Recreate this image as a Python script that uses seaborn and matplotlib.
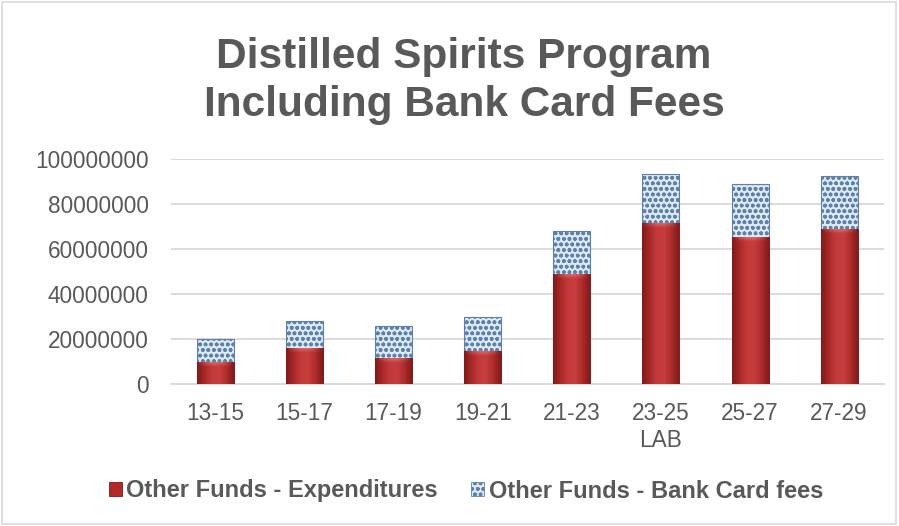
import matplotlib
matplotlib.use("Agg")
import matplotlib.pyplot as plt
from matplotlib.patches import Patch
from matplotlib.colors import LinearSegmentedColormap
import seaborn as sns
import pandas as pd
import numpy as np

periods = ["13-15", "15-17", "17-19", "19-21", "21-23", "23-25\nLAB", "25-27", "27-29"]
expenditures = [10000000, 16000000, 11800000, 14700000, 49100000, 71600000, 65500000, 69000000]
bank_card_fees = [10000000, 12000000, 14100000, 15200000, 18800000, 21900000, 23200000, 23600000]
y_ticks = [0, 20000000, 40000000, 60000000, 80000000, 100000000]

df = pd.DataFrame({"period": periods, "exp": expenditures, "fees": bank_card_fees})
df["total"] = df["exp"] + df["fees"]

sns.set_theme(style="white")
plt.rcParams["font.family"] = ["Liberation Sans", "DejaVu Sans"]
plt.rcParams["hatch.linewidth"] = 1.1

fig = plt.figure(figsize=(8.99, 5.26), dpi=100)
ax = fig.add_axes([0.190, 0.2694, 0.793, 0.4283])

red = "#b8302e"
red_edge = "#7e1a1a"
blue_face = "#dce9f6"
blue_hatch = "#5f80a8"
text_grey = "#595959"
bar_w = 0.415

# fees sit on top of expenditures: draw totals first, then expenditures from zero
sns.barplot(data=df, x="period", y="total", color=blue_face, width=bar_w,
            saturation=1, ax=ax, zorder=2)
fee_patches = list(ax.patches)
for p in fee_patches:
    p.set_hatch("ooo")
    p.set_edgecolor(blue_hatch)
    p.set_linewidth(0.8)

sns.barplot(data=df, x="period", y="exp", color=red, width=bar_w,
            saturation=1, ax=ax, zorder=3)
exp_patches = ax.patches[len(fee_patches):]

# rounded, shaded look on the red segments: darker at the sides, lighter in the middle
shade = LinearSegmentedColormap.from_list(
    "shade", ["#7f1b1b", "#a82828", "#c43a3a", "#c63d3d", "#b02c2c", "#7f1b1b"])
gx = np.linspace(0, 1, 64)
for p in exp_patches:
    p.set_edgecolor(red_edge)
    p.set_linewidth(0.6)
    x0, y0 = p.get_x(), p.get_y()
    w, h = p.get_width(), p.get_height()
    img = np.tile(gx, (32, 1))
    im = ax.imshow(img, cmap=shade, aspect="auto", origin="lower",
                   extent=(x0, x0 + w, y0, y0 + h), zorder=3.5, interpolation="bicubic")
    im.set_clip_path(p)
    # soft highlight near the top of each segment
    cap_h = 2200000
    cap = np.tile(np.sin(np.linspace(0, np.pi, 64)), (8, 1)) * np.linspace(0.0, 1.0, 8)[:, None]
    rgba = np.zeros((8, 64, 4))
    rgba[..., :3] = [0.93, 0.55, 0.55]
    rgba[..., 3] = cap * 0.55
    hi = ax.imshow(rgba, aspect="auto", origin="lower",
                   extent=(x0, x0 + w, y0 + h - cap_h, y0 + h), zorder=3.6,
                   interpolation="bicubic")
    hi.set_clip_path(p)

ax.set_xlim(-0.5, len(periods) - 0.5)
ax.set_ylim(0, y_ticks[-1])
ax.set_yticks(y_ticks)
ax.set_yticklabels([str(v) for v in y_ticks])
ax.yaxis.grid(True, color="#d9d9d9", linewidth=1.3)
ax.set_axisbelow(True)
for s in ["top", "right", "left"]:
    ax.spines[s].set_visible(False)
ax.spines["bottom"].set_color("#d9d9d9")
ax.spines["bottom"].set_linewidth(1.3)
ax.tick_params(axis="both", labelsize=16.3, colors=text_grey, length=0)
ax.tick_params(axis="y", pad=16)
ax.tick_params(axis="x", pad=13)
ax.set_xlabel("")
ax.set_ylabel("")

fig.text(464 / 899, 1 - 68 / 526, "Distilled Spirits Program", ha="center", va="baseline",
         fontsize=30.5, fontweight="bold", color=text_grey)
fig.text(464 / 899, 1 - 116 / 526, "Including Bank Card Fees", ha="center", va="baseline",
         fontsize=30.5, fontweight="bold", color=text_grey)

handles = [
    Patch(facecolor="#b02a2a", edgecolor=red_edge, linewidth=0.6,
          label="Other Funds - Expenditures"),
    Patch(facecolor=blue_face, edgecolor=blue_hatch, hatch="ooo", linewidth=0.6,
          label="Other Funds - Bank Card fees"),
]
fig.legend(handles=handles, loc="center", bbox_to_anchor=(466 / 899, 1 - 491 / 526), ncol=2,
           frameon=False, prop={"weight": "bold", "size": 17},
           handlelength=0.55, handleheight=0.55, handletextpad=0.2, columnspacing=1.4,
           labelcolor=text_grey, borderaxespad=0, borderpad=0)

# light frame round the chart area
fig.patches.append(plt.Rectangle((0.002, 0.003), 0.995, 0.994, transform=fig.transFigure,
                                 fill=False, edgecolor="#d9d9d9", linewidth=1.2))

fig.savefig("out.png", dpi=100)
